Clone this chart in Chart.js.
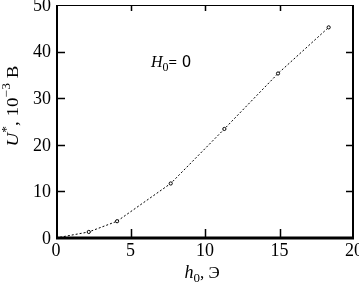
<!DOCTYPE html>
<html>
<head>
<meta charset="utf-8">
<script src="https://cdn.jsdelivr.net/npm/chart.js@4"></script>
<style>
  html, body { margin: 0; padding: 0; background: #fff; }
  #plot { display: block; }
</style>
</head>
<body>
<canvas id="plot" width="359" height="287"></canvas>
<script>
// values
const fieldH0 = [0, 2.2, 4.1, 7.7, 11.3, 14.9, 18.3];
const voltageU = [0, 1.3, 3.6, 11.7, 23.4, 35.3, 45.2];
const xTicks = [0, 5, 10, 15, 20];
const yTicks = [0, 10, 20, 30, 40, 50];

const serif = '"Liberation Serif", "Times New Roman", serif';

// draws a row of text pieces (text, font, dy) starting at x
function drawPieces(ctx, pieces, x, y, center) {
    let total = 0;
    pieces.forEach(function(p) {
        ctx.font = p.font;
        total += ctx.measureText(p.text).width;
    });
    let cx = center ? x - total / 2 : x;
    pieces.forEach(function(p) {
        ctx.font = p.font;
        ctx.fillText(p.text, cx, y + (p.dy || 0));
        cx += ctx.measureText(p.text).width;
    });
}

const framePlugin = {
    id: 'frame',
    afterDraw: function(chart) {
        const ctx = chart.ctx;
        const a = chart.chartArea;
        const xs = chart.scales.x;
        const ys = chart.scales.y;
        ctx.save();
        ctx.strokeStyle = '#000';

        // frame
        ctx.lineWidth = 1;
        ctx.beginPath();
        ctx.moveTo(a.left, a.top + 0.5);
        ctx.lineTo(a.right, a.top + 0.5);
        ctx.stroke();
        ctx.lineWidth = 2;
        ctx.beginPath();
        ctx.moveTo(a.left + 1, a.top);
        ctx.lineTo(a.left + 1, a.bottom);
        ctx.moveTo(a.right - 1, a.top);
        ctx.lineTo(a.right - 1, a.bottom);
        ctx.stroke();
        ctx.lineWidth = 3;
        ctx.beginPath();
        ctx.moveTo(a.left, a.bottom);
        ctx.lineTo(a.right, a.bottom);
        ctx.stroke();

        // inward ticks on all four sides
        ctx.lineWidth = 1.5;
        ctx.beginPath();
        xTicks.slice(1, -1).forEach(function(v) {
            const px = Math.round(xs.getPixelForValue(v)) + 0.5;
            ctx.moveTo(px, a.bottom);
            ctx.lineTo(px, a.bottom - 9);
            ctx.moveTo(px, a.top);
            ctx.lineTo(px, a.top + 6);
        });
        yTicks.slice(1, -1).forEach(function(v) {
            const py = Math.round(ys.getPixelForValue(v)) + 0.5;
            ctx.moveTo(a.left, py);
            ctx.lineTo(a.left + 9, py);
            ctx.moveTo(a.right, py);
            ctx.lineTo(a.right - 8, py);
        });
        ctx.stroke();

        ctx.fillStyle = '#000';

        // tick labels
        ctx.font = '18px ' + serif;
        ctx.textAlign = 'center';
        ctx.textBaseline = 'top';
        xTicks.forEach(function(v) {
            ctx.fillText(String(v), xs.getPixelForValue(v), a.bottom + 4);
        });
        ctx.textAlign = 'right';
        ctx.textBaseline = 'middle';
        yTicks.forEach(function(v) {
            ctx.fillText(String(v), a.left - 5, ys.getPixelForValue(v) + 1);
        });

        ctx.textBaseline = 'alphabetic';
        ctx.textAlign = 'left';

        // x axis title
        drawPieces(ctx, [
            { text: 'h', font: 'italic 18px ' + serif },
            { text: '0', font: '13px ' + serif, dy: 4 },
            { text: ', Э', font: '17px ' + serif }
        ], 202, 278, true);

        // H0 = 0 note
        drawPieces(ctx, [
            { text: 'H', font: 'italic 16px ' + serif },
            { text: '0', font: '12px ' + serif, dy: 4 },
            { text: '=', font: 'bold 15px ' + serif },
            { text: ' 0', font: '15px "DejaVu Sans", sans-serif' }
        ], 151, 67, false);

        // y axis title, rotated
        ctx.translate(18, 106);
        ctx.rotate(-Math.PI / 2);
        ctx.scale(1.12, 1);
        drawPieces(ctx, [
            { text: 'U', font: 'italic 17px ' + serif },
            { text: '*', font: '12px ' + serif, dy: -8 },
            { text: ', 10', font: '17px ' + serif },
            { text: '−3', font: '12px ' + serif, dy: -8 },
            { text: ' В', font: '17px ' + serif }
        ], 0, 0, true);
        ctx.restore();
    }
};

const ctx = document.getElementById('plot').getContext('2d');
new Chart(ctx, {
    type: 'scatter',
    data: {
        datasets: [{
            data: fieldH0.map(function(h, i) { return { x: h, y: voltageU[i] }; }),
            showLine: true,
            borderColor: '#000',
            borderWidth: 1,
            borderDash: [2, 2],
            pointRadius: 1.6,
            pointStyle: 'circle',
            pointBackgroundColor: '#fff',
            pointBorderColor: '#000',
            pointBorderWidth: 1
        }]
    },
    options: {
        responsive: false,
        animation: false,
        layout: { padding: { top: 1, right: 1, left: 0, bottom: 0 } },
        plugins: {
            legend: { display: false },
            tooltip: { enabled: false }
        },
        scales: {
            x: {
                type: 'linear',
                min: 0,
                max: 20,
                afterFit: function(s) { s.height = 49; },
                grid: { display: false },
                border: { display: false },
                ticks: { display: false }
            },
            y: {
                type: 'linear',
                min: 0,
                max: 50,
                afterFit: function(s) { s.width = 56; },
                grid: { display: false },
                border: { display: false },
                ticks: { display: false }
            }
        }
    },
    plugins: [framePlugin]
});
</script>
</body>
</html>
